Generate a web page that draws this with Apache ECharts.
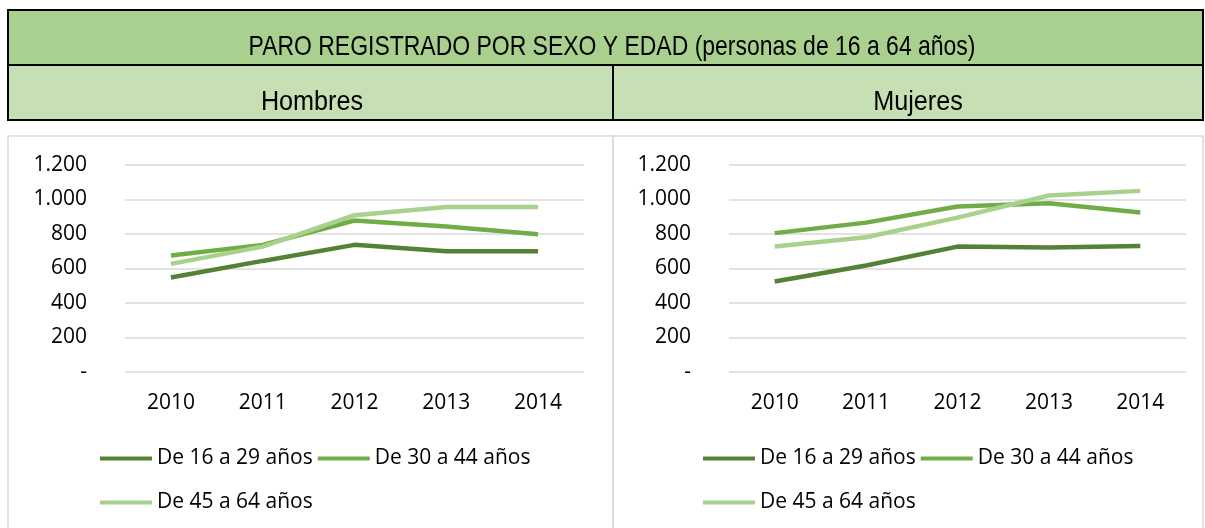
<!DOCTYPE html>
<html>
<head>
<meta charset="utf-8">
<script src="https://cdn.jsdelivr.net/npm/echarts@6/dist/echarts.min.js"></script>
<style>
  html, body { margin: 0; padding: 0; background: #fff; }
  #main { width: 1205px; height: 528px; }
</style>
</head>
<body>
<div id="main"></div>
<script>
// datos
var years = ['2010', '2011', '2012', '2013', '2014'];
var seriesNames = ['De 16 a 29 años', 'De 30 a 44 años', 'De 45 a 64 años'];
var hombres16 = [548, 644, 737, 700, 700];
var hombres30 = [675, 737, 878, 843, 799];
var hombres45 = [627, 727, 909, 957, 957];
var mujeres16 = [525, 617, 727, 722, 731];
var mujeres30 = [805, 866, 959, 978, 924];
var mujeres45 = [727, 781, 895, 1023, 1050];
var yTicks = [0, 200, 400, 600, 800, 1000, 1200];

var colors = ['#548235', '#70ad47', '#a9d18e'];
var font = 'Open Sans';
var titleFont = '"Liberation Sans Narrow", "Liberation Sans", sans-serif';

function fmt(v) {
  if (v === 0) return '-';
  return String(v).replace(/\B(?=(\d{3})+(?!\d))/g, '.');
}

var myChart = echarts.init(document.getElementById('main'));

function yAxisFor(idx) {
  return {
    type: 'value',
    gridIndex: idx,
    min: yTicks[0],
    max: yTicks[yTicks.length - 1],
    interval: 200,
    axisLine: { show: false },
    axisTick: { show: false },
    axisLabel: {
      color: '#000',
      fontFamily: font,
      fontSize: 21,
      margin: 38,
      formatter: fmt
    },
    splitLine: { lineStyle: { color: '#d9d9d9', width: 1.5 } }
  };
}

function xAxisFor(idx) {
  return {
    type: 'category',
    gridIndex: idx,
    data: years,
    axisLine: { show: false },
    axisTick: { show: false },
    axisLabel: {
      color: '#000',
      fontFamily: font,
      fontSize: 21,
      margin: 21
    }
  };
}

function lineSeries(name, data, idx, color) {
  return {
    name: name,
    type: 'line',
    xAxisIndex: idx,
    yAxisIndex: idx,
    data: data,
    symbol: 'none',
    color: color,
    lineStyle: { width: 4.5, color: color },
    z: 3
  };
}

function legendFor(left, top, names) {
  return {
    left: left,
    top: top,
    data: names,
    icon: 'rect',
    itemWidth: 52,
    itemHeight: 4,
    itemGap: 5,
    textStyle: { fontFamily: font, fontSize: 21, color: '#000' }
  };
}

function headerText(text, x, y, sx) {
  return {
    type: 'text', x: x, y: y, scaleX: sx, z: 10,
    style: {
      text: text, fontFamily: titleFont, fontSize: 28, fill: '#000',
      align: 'center', verticalAlign: 'middle'
    }
  };
}

myChart.setOption({
  animation: false,
  backgroundColor: '#fff',
  graphic: [
    // cabecera
    { type: 'rect', shape: { x: 8, y: 10, width: 1195, height: 55 }, style: { fill: '#a9d08e', stroke: '#000', lineWidth: 2 } },
    { type: 'rect', shape: { x: 8, y: 65, width: 605, height: 55 }, style: { fill: '#c6e0b4', stroke: '#000', lineWidth: 2 } },
    { type: 'rect', shape: { x: 613, y: 65, width: 590, height: 55 }, style: { fill: '#c6e0b4', stroke: '#000', lineWidth: 2 } },
    headerText('PARO REGISTRADO POR SEXO Y EDAD (personas de 16 a 64 años)', 612, 47, 0.82),
    headerText('Hombres', 312, 102, 0.9),
    headerText('Mujeres', 918, 102, 0.9),
    // marcos de los gráficos
    { type: 'rect', shape: { x: 8, y: 136, width: 605, height: 400 }, style: { fill: 'none', stroke: '#d9d9d9', lineWidth: 1.5 } },
    { type: 'rect', shape: { x: 613, y: 136, width: 590, height: 400 }, style: { fill: 'none', stroke: '#d9d9d9', lineWidth: 1.5 } }
  ],
  grid: [
    { left: 125, right: 621, top: 165, bottom: 156 },
    { left: 729, right: 19, top: 165, bottom: 156 }
  ],
  xAxis: [xAxisFor(0), xAxisFor(1)],
  yAxis: [yAxisFor(0), yAxisFor(1)],
  legend: [
    legendFor(95, 443, [seriesNames[0], seriesNames[1]]),
    legendFor(95, 487, [seriesNames[2]]),
    legendFor(698, 443, [seriesNames[0], seriesNames[1]]),
    legendFor(698, 487, [seriesNames[2]])
  ],
  series: [
    lineSeries(seriesNames[0], hombres16, 0, colors[0]),
    lineSeries(seriesNames[1], hombres30, 0, colors[1]),
    lineSeries(seriesNames[2], hombres45, 0, colors[2]),
    lineSeries(seriesNames[0], mujeres16, 1, colors[0]),
    lineSeries(seriesNames[1], mujeres30, 1, colors[1]),
    lineSeries(seriesNames[2], mujeres45, 1, colors[2])
  ]
});
</script>
</body>
</html>
